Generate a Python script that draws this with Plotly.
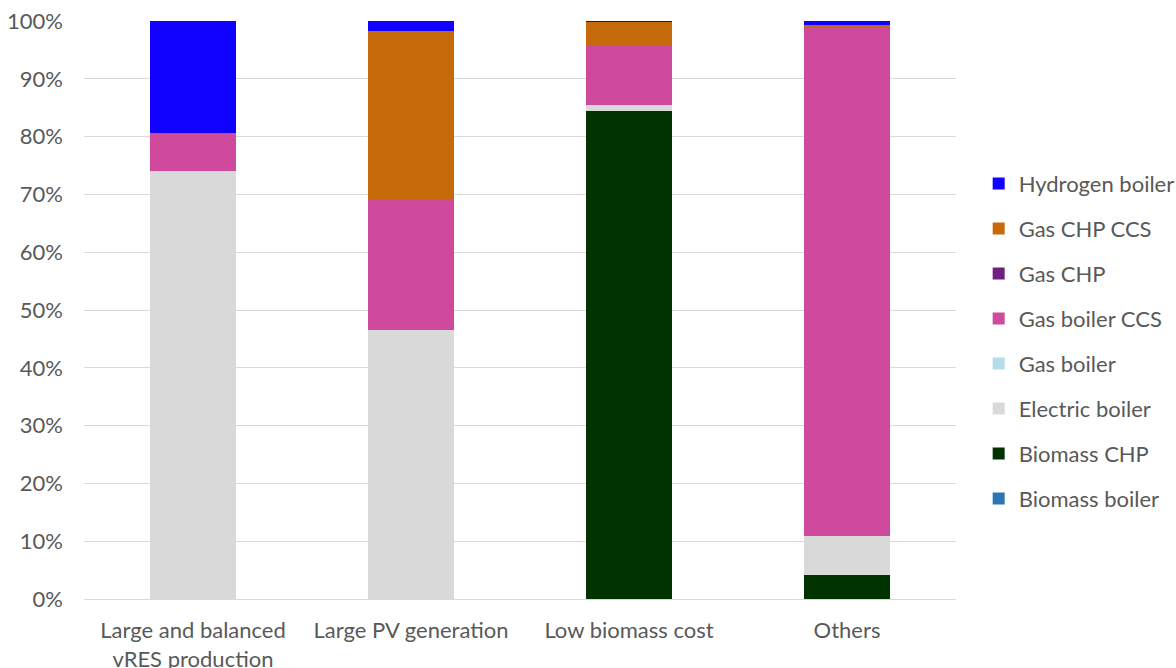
import plotly.graph_objects as go

categories = ["Large and balanced<br>vRES production", "Large PV generation", "Low biomass cost", "Others"]

biomass_boiler = [0.0, 0.0, 0.0, 0.0]
biomass_chp = [0.0, 0.0, 84.4, 4.2]
electric_boiler = [74.0, 46.5, 1.1, 6.7]
gas_boiler = [0.0, 0.0, 0.0, 0.0]
gas_boiler_ccs = [6.7, 22.5, 10.3, 87.9]
gas_chp = [0.0, 0.0, 0.0, 0.0]
gas_chp_ccs = [0.0, 29.2, 4.1, 0.5]
hydrogen_boiler = [19.3, 1.8, 0.1, 0.7]

series = [
    ("Biomass boiler", biomass_boiler, "#2E75B6"),
    ("Biomass CHP", biomass_chp, "#003300"),
    ("Electric boiler", electric_boiler, "#D9D9D9"),
    ("Gas boiler", gas_boiler, "#B4DDE7"),
    ("Gas boiler CCS", gas_boiler_ccs, "#CF4A9D"),
    ("Gas CHP", gas_chp, "#70217F"),
    ("Gas CHP CCS", gas_chp_ccs, "#C5690B"),
    ("Hydrogen boiler", hydrogen_boiler, "#1000FF"),
]

fig = go.Figure()
n = len(series)
for i, (name, vals, col) in enumerate(series):
    fig.add_trace(go.Bar(
        x=categories, y=vals, name=name, legendgroup=name,
        legendrank=1000 + (n - i),
        marker=dict(color=col, line=dict(width=0)),
        width=0.397,
    ))

font_family = "Lato, 'Open Sans', sans-serif"
fig.update_layout(
    barmode="stack",
    width=1176, height=668,
    margin=dict(l=84, r=220, t=21, b=69, autoexpand=False),
    plot_bgcolor="white", paper_bgcolor="white",
    font=dict(family=font_family, size=22, color="#595959"),
    showlegend=True,
    legend=dict(
        traceorder="grouped",
        tracegroupgap=13.4,
        x=1.026, xanchor="left",
        y=0.446, yanchor="middle",
        font=dict(size=22, color="#595959"),
        itemwidth=30,
    ),
)
fig.update_yaxes(
    range=[0, 100], dtick=10, ticksuffix="%",
    showgrid=True, gridcolor="#D9D9D9", gridwidth=1.3,
    zeroline=True, zerolinecolor="#D9D9D9", zerolinewidth=1.3,
    showline=False, ticks="", ticklabelstandoff=20,
    tickfont=dict(size=22, color="#595959"),
    automargin=False,
)
fig.update_xaxes(
    showgrid=False, showline=False, ticks="",
    tickfont=dict(size=22, color="#595959"),
    tickangle=0, ticklabelstandoff=16,
    automargin=False,
)

fig.write_html("out.html", config={"displayModeBar": False},
               post_script="document.body.style.margin='0';")
